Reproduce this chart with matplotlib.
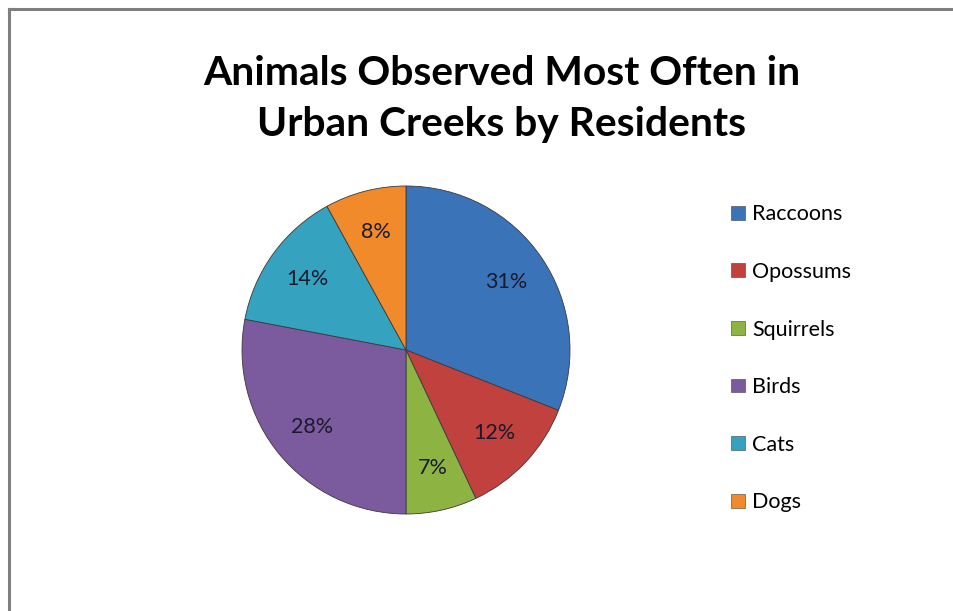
import matplotlib.pyplot as plt
from matplotlib.lines import Line2D
from matplotlib.patches import Patch

# Survey results: share of residents naming each animal
animals = ["Raccoons", "Opossums", "Squirrels", "Birds", "Cats", "Dogs"]
shares = [31, 12, 7, 28, 14, 8]
colors = ["#3B73B9", "#C0413D", "#8DB443", "#7B5B9E", "#35A3C0", "#F08A2A"]

W, H = 954, 611
fig = plt.figure(figsize=(W / 100, H / 100), dpi=100)
fig.patch.set_facecolor("white")

# grey frame along the top and left edges
fig.add_artist(Line2D([9 / W, 1], [1 - 9 / H, 1 - 9 / H], color="#7f7f7f", lw=2.2))
fig.add_artist(Line2D([9 / W, 9 / W], [0, 1 - 9 / H], color="#7f7f7f", lw=2.2))

fig.text(502 / W, 1 - 99 / H, "Animals Observed Most Often in\nUrban Creeks by Residents",
         ha="center", va="center", fontsize=29.3, fontweight="bold", family="Lato",
         linespacing=1.45, color="black")

# pie axes: centre at (406, 350) px, radius ~164 px
cx, cy, r = 406, 350, 164
ax = fig.add_axes([(cx - r) / W, (H - cy - r) / H, 2 * r / W, 2 * r / H])
wedges, texts, autotexts = ax.pie(
    shares, colors=colors, startangle=90, counterclock=False,
    autopct=lambda p: f"{p:.0f}%", pctdistance=0.74,
    wedgeprops=dict(edgecolor="#3a3a3a", linewidth=0.6),
    textprops=dict(fontsize=15.5, family="Lato", color="#1a1a2a"),
)
ax.set_xlim(-1, 1)
ax.set_ylim(-1, 1)
ax.set_aspect("equal")
ax.axis("off")

handles = [Patch(facecolor=c, edgecolor="#404040", linewidth=0.4) for c in colors]
fig.legend(handles, animals, loc="upper left", bbox_to_anchor=(712 / W, 1 - 185 / H),
           frameon=False, prop=dict(family="Lato", size=15.5), labelspacing=1.745,
           handlelength=0.62, handleheight=0.62, handletextpad=0.35)

fig.savefig("out.png", dpi=100)
